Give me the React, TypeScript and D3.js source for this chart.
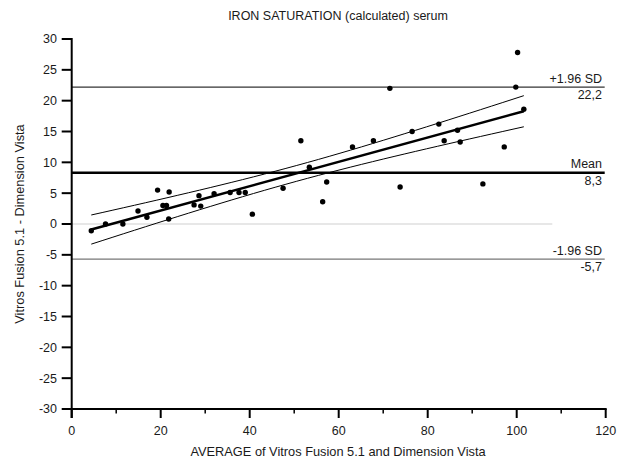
import React from "react";
import * as d3 from "d3";

const title = "IRON SATURATION (calculated) serum";
const xLabel = "AVERAGE of Vitros Fusion 5.1 and Dimension Vista";
const yLabel = "Vitros Fusion 5.1 - Dimension Vista";

const avgValues = [4.4, 7.6, 11.5, 14.9, 16.9, 19.3, 20.5, 21.3, 21.9, 21.8, 27.5, 28.6, 29.0, 32.0, 35.6, 37.6, 39.0, 40.6, 47.5, 51.5, 53.4, 56.4, 57.3, 63.1, 67.8, 71.5, 73.8, 76.5, 82.5, 83.7, 86.7, 87.3, 92.4, 97.2, 99.8, 100.2, 101.6];
const diffValues = [-1.1, 0.0, 0.0, 2.1, 1.1, 5.5, 3.0, 3.0, 5.2, 0.8, 3.1, 4.6, 2.9, 4.9, 5.1, 5.1, 5.1, 1.6, 5.8, 13.5, 9.2, 3.6, 6.8, 12.5, 13.5, 22.0, 6.0, 15.0, 16.2, 13.5, 15.2, 13.3, 6.5, 12.5, 22.2, 27.8, 18.6];

const refLines = [
  { value: 22.2, top: "+1.96 SD", bottom: "22,2", kind: "upper" },
  { value: 8.3, top: "Mean", bottom: "8,3", kind: "mean" },
  { value: -5.7, top: "-1.96 SD", bottom: "-5,7", kind: "lower" },
];
const zeroLineEnd = 108;
const xDomain = [0, 120];
const yDomain = [-30, 30];

export default function App() {
  const W = 618, H = 459;
  const x = d3.scaleLinear().domain(xDomain).range([71.7, 605.7]);
  const y = d3.scaleLinear().domain(yDomain).range([409, 39]);
  const font = "'Liberation Sans', Arial, sans-serif";
  const txt = "#1a1a1a";

  // regression with 95% CI
  const n = avgValues.length;
  const xbar = d3.mean(avgValues)!;
  const ybar = d3.mean(diffValues)!;
  let sxx = 0, sxy = 0;
  avgValues.forEach((v, i) => { sxx += (v - xbar) ** 2; sxy += (v - xbar) * (diffValues[i] - ybar); });
  const b = sxy / sxx;
  const a = ybar - b * xbar;
  let ssr = 0;
  avgValues.forEach((v, i) => { ssr += (diffValues[i] - (a + b * v)) ** 2; });
  const s = Math.sqrt(ssr / (n - 2));
  const t = 2.03;
  const [xmin, xmax] = d3.extent(avgValues) as [number, number];
  const xs = d3.range(0, 41).map((k) => xmin + (xmax - xmin) * k / 40);
  const hw = (v: number) => t * s * Math.sqrt(1 / n + (v - xbar) ** 2 / sxx);
  const line = d3.line<[number, number]>().x((d) => x(d[0])).y((d) => y(d[1]));
  const regPath = line([[xmin, a + b * xmin], [xmax, a + b * xmax]]);
  const upPath = line(xs.map((v) => [v, a + b * v + hw(v)] as [number, number]));
  const loPath = line(xs.map((v) => [v, a + b * v - hw(v)] as [number, number]));

  const yTicks = d3.range(-30, 31, 5);
  const xMajor = d3.range(0, 121, 20);
  const xMinor = d3.range(10, 120, 20);
  const fsLabel = 12.8;
  const fsTick = 12.5;

  return (
    <svg width={W} height={H} style={{ position: "absolute", left: 0, top: 0, background: "#fff" }} fontFamily={font}>
      <text x={338} y={20} textAnchor="middle" fontSize={12.5} fill={txt}>{title}</text>

      {/* zero line */}
      <line x1={x(0)} x2={x(zeroLineEnd)} y1={y(0)} y2={y(0)} stroke="#cfcfcf" strokeWidth={1.2} />

      {/* reference lines */}
      {refLines.map((r) => (
        <g key={r.top}>
          <line x1={x(0)} x2={x(120) - 1} y1={y(r.value)} y2={y(r.value)}
            stroke={r.kind === "lower" ? "#777" : "#000"}
            strokeWidth={r.kind === "mean" ? 2.4 : r.kind === "lower" ? 1.4 : 1} />
          <text x={602} y={y(r.value) - 4.5} textAnchor="end" fontSize={fsTick} fill={txt}>{r.top}</text>
          <text x={602} y={y(r.value) + 12} textAnchor="end" fontSize={fsTick} fill={txt}>{r.bottom}</text>
        </g>
      ))}

      {/* regression + CI */}
      <path d={upPath!} fill="none" stroke="#000" strokeWidth={1} />
      <path d={loPath!} fill="none" stroke="#000" strokeWidth={1} />
      <path d={regPath!} fill="none" stroke="#000" strokeWidth={2.5} />

      {/* points */}
      {avgValues.map((v, i) => (
        <circle key={i} cx={x(v)} cy={y(diffValues[i])} r={2.7} fill="#000" />
      ))}

      {/* y axis */}
      <line x1={x(0)} x2={x(0)} y1={y(30) - 1} y2={y(-30) + 9} stroke="#000" strokeWidth={2} />
      {yTicks.map((v) => (
        <g key={v}>
          <line x1={x(0) - 10} x2={x(0)} y1={y(v)} y2={y(v)} stroke="#000" strokeWidth={2} />
          <text x={57} y={y(v)} dy="0.35em" textAnchor="end" fontSize={fsTick} fill={txt}>{v}</text>
        </g>
      ))}

      {/* x axis */}
      <line x1={x(0)} x2={x(120) + 1} y1={y(-30)} y2={y(-30)} stroke="#000" strokeWidth={2} />
      {xMajor.map((v) => (
        <g key={v}>
          <line x1={x(v)} x2={x(v)} y1={y(-30)} y2={y(-30) + 9} stroke="#000" strokeWidth={2} />
          <text x={x(v)} y={435} textAnchor="middle" fontSize={fsTick} fill={txt}>{v}</text>
        </g>
      ))}
      {xMinor.map((v) => (
        <line key={v} x1={x(v)} x2={x(v)} y1={y(-30)} y2={y(-30) + 4.5} stroke="#000" strokeWidth={1.5} />
      ))}

      <text x={338} y={456} textAnchor="middle" fontSize={fsLabel} fill={txt}>{xLabel}</text>
      <text transform={`translate(24,${y(0) + 0}) rotate(-90)`} textAnchor="middle" fontSize={fsLabel} fill={txt}>{yLabel}</text>
    </svg>
  );
}
